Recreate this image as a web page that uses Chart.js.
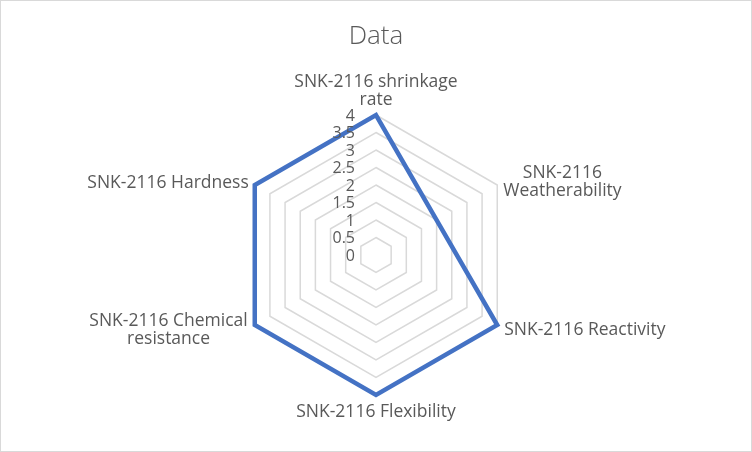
<!DOCTYPE html>
<html><head><meta charset="utf-8">
<script src="https://cdn.jsdelivr.net/npm/chart.js@4/dist/chart.umd.min.js"></script>
<style>html,body{margin:0;padding:0;background:#fff}canvas{display:block}</style>
</head><body>
<canvas id="c" width="752" height="452"></canvas>
<script>
const categories = [
  ["SNK-2116 shrinkage", "rate"],
  ["SNK-2116", "Weatherability"],
  ["SNK-2116 Reactivity"],
  ["SNK-2116 Flexibility"],
  ["SNK-2116 Chemical", "resistance"],
  ["SNK-2116 Hardness"]
];
const seriesName = "Data";
const values = [4, 2, 4, 4, 4, 4];
const tickLabels = ["0", "0.5", "1", "1.5", "2", "2.5", "3", "3.5", "4"];

const TEXT = '#595959';
const FONT = '"Open Sans", "Noto Sans", sans-serif';

// label placement relative to each axis end: mode, dx, first baseline dy
const labelPlacement = [
  {mode: 'center', dx: 0, dy: -28},
  {mode: 'leftBlock', dx: 6, dy: -7},
  {mode: 'leftBlock', dx: 7, dy: 10},
  {mode: 'center', dx: 0, dy: 22},
  {mode: 'rightBlock', dx: -7, dy: 1},
  {mode: 'rightBlock', dx: -6, dy: 3}
];

const framePlugin = {
  id: 'frame',
  beforeDraw(chart) {
    const c = chart.ctx;
    c.save();
    c.fillStyle = '#fff';
    c.fillRect(0, 0, chart.width, chart.height);
    c.restore();
  },
  afterDraw(chart) {
    const c = chart.ctx;
    c.save();
    c.strokeStyle = '#d9d9d9';
    c.lineWidth = 1;
    c.strokeRect(0.5, 0.5, chart.width - 1, chart.height - 1);
    c.restore();
  }
};

const labelsPlugin = {
  id: 'radarText',
  afterDatasetsDraw(chart) {
    const s = chart.scales.r;
    const c = chart.ctx;
    c.save();
    c.fillStyle = TEXT;
    // tick labels
    c.font = '16px ' + FONT;
    c.textAlign = 'right';
    c.textBaseline = 'middle';
    tickLabels.forEach(t => {
      const y = s.yCenter - s.getDistanceFromCenterForValue(Number(t));
      c.fillText(t, s.xCenter - 21, y + 1);
    });
    // point labels
    c.font = '17.5px ' + FONT;
    c.textBaseline = 'alphabetic';
    const outer = s.getDistanceFromCenterForValue(s.max);
    categories.forEach((lines, i) => {
      const p = s.getPointPosition(i, outer);
      const pl = labelPlacement[i];
      const maxW = Math.max(...lines.map(l => c.measureText(l).width));
      let cx;
      if (pl.mode === 'center') cx = p.x + pl.dx;
      else if (pl.mode === 'leftBlock') cx = p.x + pl.dx + maxW / 2;
      else cx = p.x + pl.dx - maxW / 2;
      c.textAlign = 'center';
      lines.forEach((l, k) => {
        c.fillText(l, cx, p.y + pl.dy + k * 18);
      });
    });
    c.restore();
  }
};

new Chart(document.getElementById('c'), {
  type: 'radar',
  data: {
    labels: categories,
    datasets: [{
      label: seriesName,
      data: values,
      borderColor: '#4472C4',
      borderWidth: 4.5,
      backgroundColor: 'rgba(0,0,0,0)',
      fill: false,
      pointRadius: 0,
      pointHoverRadius: 0,
      borderJoinStyle: 'miter',
      tension: 0
    }]
  },
  options: {
    responsive: false,
    animation: false,
    layout: {padding: {left: 0, right: 0, top: 0, bottom: 57}},
    plugins: {
      legend: {display: false},
      tooltip: {enabled: false},
      title: {
        display: true,
        text: seriesName,
        color: TEXT,
        font: {family: FONT, size: 26, weight: '300', lineHeight: 1.25},
        padding: {top: 20, bottom: 62.5}
      }
    },
    scales: {
      r: {
        min: 0,
        max: 4,
        ticks: {display: false, stepSize: 0.5},
        grid: {color: '#d9d9d9', lineWidth: 1.5},
        angleLines: {display: false},
        pointLabels: {display: false}
      }
    }
  },
  plugins: [framePlugin, labelsPlugin]
});
</script>
</body></html>
